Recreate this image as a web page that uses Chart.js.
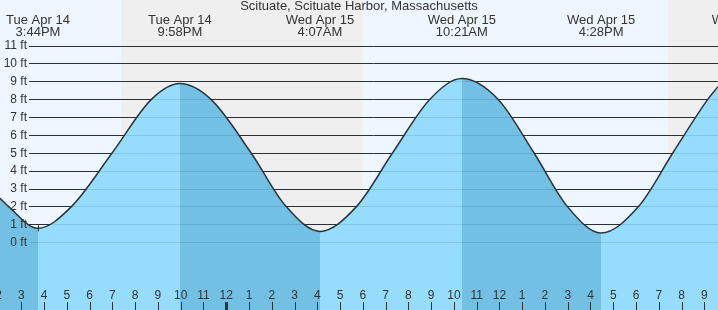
<!DOCTYPE html>
<html lang="en">
<head>
<meta charset="UTF-8">
<title>Scituate, Scituate Harbor tide chart</title>
<script src="https://cdn.jsdelivr.net/npm/chart.js"></script>
<style>
  html, body { margin: 0; padding: 0; background: #fff; }
  #wrap { width: 718px; height: 310px; }
</style>
</head>
<body>
<div id="wrap"><canvas id="tide-chart" width="718" height="310"></canvas></div>
<script>
const TITLE = 'Scituate, Scituate Harbor, Massachusetts';

// hours counted from Tue Apr 14 00:00, heights in feet
const tideHours = [14.065, 14.429, 15.733, 17.213, 18.996, 20.727, 21.967,
  23.318, 25.088, 26.625, 28.117, 29.730, 31.311, 32.949, 34.350,
  35.935, 37.516, 38.979, 40.467, 42.115, 43.621, 45.158, 45.600];
const tideFeet = [2.45, 2, 0.77, 2, 5, 8, 8.87,
  8, 5, 2, 0.6, 2, 5, 8, 9.15,
  8, 5, 2, 0.51, 2, 5, 8, 8.7];

// high / low tides (first one is a low)
const extremeHours = [15.733, 21.967, 28.117, 34.350, 40.467, 46.83];
const extremeDays = ['Tue Apr 14', 'Tue Apr 14', 'Wed Apr 15', 'Wed Apr 15', 'Wed Apr 15', 'Wed Apr 15'];
const extremeTimes = ['3:44PM', '9:58PM', '4:07AM', '10:21AM', '4:28PM', '10:50PM'];

// sunset -> sunrise
const nightStart = [19.38, 43.40];
const nightEnd = [30.00, 54.00];

const feetTicks = [0, 1, 2, 3, 4, 5, 6, 7, 8, 9, 10, 11];
const hourTicks = [14, 15, 16, 17, 18, 19, 20, 21, 22, 23, 24, 25, 26, 27, 28, 29,
  30, 31, 32, 33, 34, 35, 36, 37, 38, 39, 40, 41, 42, 43, 44, 45];
const hourLabels = ['2', '3', '4', '5', '6', '7', '8', '9', '10', '11', '12', '1', '2', '3', '4', '5',
  '6', '7', '8', '9', '10', '11', '12', '1', '2', '3', '4', '5', '6', '7', '8', '9'];
const hourMin = 14.065, hourMax = 45.6;
const feetMin = -3.8, feetMax = 13.55;

const DAY_BG = '#eef7ff';
const NIGHT_BG = '#efefef';
const WATER_RISING = '#96dcfd';
const WATER_FALLING = '#72c0e4';
const TEXT = '#333';
const FONT = '"Liberation Sans", Arial, sans-serif';

function waterFill(context) {
  const chart = context.chart;
  const area = chart.chartArea;
  if (!area) return WATER_RISING;
  const x = chart.scales.x;
  const w = area.right - area.left;
  const g = chart.ctx.createLinearGradient(area.left, 0, area.right, 0);
  let pos = 0;
  let rising = false;
  extremeHours.forEach(h => {
    let p = (x.getPixelForValue(h) - area.left) / w;
    p = Math.min(Math.max(p, 0), 1);
    const c = rising ? WATER_RISING : WATER_FALLING;
    g.addColorStop(pos, c);
    g.addColorStop(p, c);
    pos = p;
    rising = !rising;
  });
  const c = rising ? WATER_RISING : WATER_FALLING;
  g.addColorStop(pos, c);
  g.addColorStop(1, c);
  return g;
}

function drawFeetLines(chart, color) {
  const {ctx, chartArea: a, scales: {y}} = chart;
  ctx.save();
  ctx.strokeStyle = color;
  ctx.lineWidth = 1;
  feetTicks.forEach(v => {
    const py = Math.round(y.getPixelForValue(v)) + 0.5;
    ctx.beginPath();
    ctx.moveTo(29, py);
    ctx.lineTo(a.right, py);
    ctx.stroke();
  });
  ctx.restore();
}

const tideDecor = {
  id: 'tideDecor',
  beforeDraw(chart) {
    const {ctx, chartArea: a, scales: {x}} = chart;
    ctx.save();
    ctx.fillStyle = DAY_BG;
    ctx.fillRect(0, 0, chart.width, chart.height);
    ctx.fillStyle = NIGHT_BG;
    nightStart.forEach((s, i) => {
      const x0 = x.getPixelForValue(s);
      const x1 = x.getPixelForValue(nightEnd[i]);
      ctx.fillRect(x0, a.top, x1 - x0, a.bottom - a.top);
    });
    ctx.restore();
  },
  beforeDatasetsDraw(chart) {
    drawFeetLines(chart, '#333');
  },
  afterDatasetsDraw(chart) {
    const {ctx, chartArea: a, scales: {x, y}} = chart;
    drawFeetLines(chart, 'rgba(0, 40, 80, 0.12)');

    ctx.save();
    ctx.fillStyle = TEXT;
    ctx.font = '12px ' + FONT;
    ctx.textAlign = 'right';
    ctx.textBaseline = 'middle';
    feetTicks.forEach(v => {
      ctx.fillText(v + ' ft', 27, y.getPixelForValue(v) + 0.5);
    });

    // hour labels and tick marks along the bottom
    ctx.textAlign = 'center';
    ctx.strokeStyle = TEXT;
    hourTicks.forEach((h, i) => {
      const px = x.getPixelForValue(h);
      ctx.fillText(hourLabels[i], px, a.bottom - 14);
      const tx = Math.round(px) + 0.5;
      ctx.lineWidth = h % 24 === 0 ? 3 : 1;
      ctx.beginPath();
      ctx.moveTo(tx, a.bottom - 8);
      ctx.lineTo(tx, a.bottom);
      ctx.stroke();
    });

    // small marker at the first low
    const mx = Math.round(x.getPixelForValue(extremeHours[0])) + 0.5;
    ctx.lineWidth = 1;
    ctx.beginPath();
    ctx.moveTo(mx, y.getPixelForValue(1));
    ctx.lineTo(mx, y.getPixelForValue(tideFeet[2]) + 3);
    ctx.stroke();

    ctx.font = '13px ' + FONT;
    ctx.textBaseline = 'alphabetic';
    ctx.fillText(TITLE, chart.width / 2, 10);
    extremeHours.forEach((h, i) => {
      const px = x.getPixelForValue(h);
      ctx.fillText(extremeDays[i], px, 24);
      ctx.fillText(extremeTimes[i], px, 36);
    });
    ctx.restore();
  }
};

const ctx = document.getElementById('tide-chart').getContext('2d');
const tideChart = new Chart(ctx, {
  type: 'line',
  data: {
    datasets: [{
      data: tideHours.map((h, i) => ({x: h, y: tideFeet[i]})),
      borderColor: '#333',
      borderWidth: 1.5,
      pointRadius: 0,
      cubicInterpolationMode: 'monotone',
      fill: 'start',
      backgroundColor: waterFill
    }]
  },
  options: {
    responsive: false,
    animation: false,
    layout: { padding: 0, autoPadding: false },
    plugins: { legend: { display: false }, tooltip: { enabled: false } },
    scales: {
      x: {
        type: 'linear',
        display: false,
        min: hourMin,
        max: hourMax
      },
      y: {
        type: 'linear',
        display: false,
        min: feetMin,
        max: feetMax
      }
    }
  },
  plugins: [tideDecor]
});
</script>
</body>
</html>
